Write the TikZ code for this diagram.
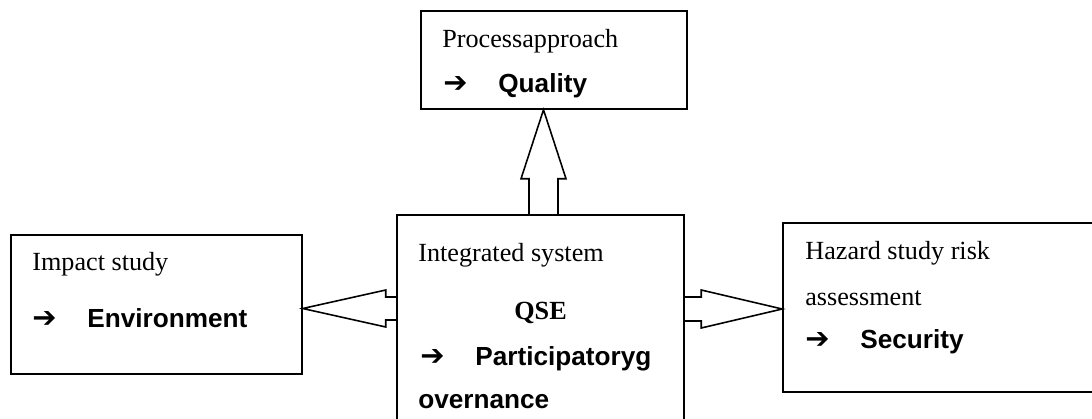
\documentclass[tikz,border=0pt]{standalone}
\usepackage{fontspec}
\setmainfont{Liberation Serif}
\newfontfamily\arialfont{Liberation Sans}
\newfontfamily\symfont{DejaVu Sans}
\usetikzlibrary{calc}
% arrow bullet followed by a bold sans word
\newcommand{\goal}[1]{\makebox[1.1cm][l]{\symfont\bfseries\fontsize{16.5}{18}\selectfont ➔}{\arialfont\bfseries #1}}
% hollow block arrow: name, base, tip, half shaft, half head, head length
\newcommand{\blockarrow}[6]{%
\coordinate (#1h) at ($(#3)!#6!(#2)$);
\draw[box] ($(#2)!#4!90:(#3)$) -- ($(#1h)!#4!90:(#3)$) -- ($(#1h)!#5!90:(#3)$) -- (#3)
 -- ($(#1h)!#5!-90:(#3)$) -- ($(#1h)!#4!-90:(#3)$) -- ($(#2)!#4!-90:(#3)$);}
\tikzset{
box/.style={draw, line width=0.9pt, line join=miter},
txt/.style={anchor=base west, inner sep=0pt, font=\fontsize{14.9}{18}\selectfont}
}
\begin{document}
\begin{tikzpicture}[x=0.02cm, y=-0.02cm]
\useasboundingbox (0,0) rectangle (1092,419);
\clip (0,0) rectangle (1092,419);
% the four boxes
\node[box, minimum width=5.32cm, minimum height=1.96cm] (proc) at (554,60) {};
\node[box, minimum width=5.82cm, minimum height=2.78cm] (env) at (156.5,304.5) {};
\node[box, minimum width=5.74cm, minimum height=4.7cm] (sys) at (540.5,332.5) {};
\node[box, minimum width=6.74cm, minimum height=3.38cm] (haz) at (951.5,307.5) {};
% texts in the boxes
\node[txt] (procA) at (442,47) {Processapproach};
\node[txt] (procB) at (443,92) {\goal{Quality}};
\node[txt] (envA) at (32,270) {Impact study};
\node[txt] (envB) at (32,327) {\goal{Environment}};
\node[txt] (sysA) at (418,261) {Integrated system};
\node[txt] (sysB) at (514,319) {\bfseries QSE};
\node[txt] (sysC) at (420,365) {\goal{Participatoryg}};
\node[txt] (sysD) at (418,408) {\arialfont\bfseries overnance};
\node[txt] (hazA) at (805,259) {Hazard study risk};
\node[txt] (hazB) at (805,305) {assessment};
\node[txt] (hazC) at (805,348) {\goal{Security}};
% block arrows out of the integrated system
\coordinate (upA) at ($(sys.north)+(3,0)$);
\coordinate (upB) at (proc.south -| upA);
\blockarrow{up}{upA}{upB}{0.29cm}{0.45cm}{1.38cm}
\coordinate (lfB) at ($(env.east)+(0,4)$);
\coordinate (lfA) at (sys.west |- lfB);
\blockarrow{lf}{lfA}{lfB}{0.23cm}{0.37cm}{1.66cm}
\coordinate (rtB) at ($(haz.west)+(0,1.5)$);
\coordinate (rtA) at (sys.east |- rtB);
\blockarrow{rt}{rtA}{rtB}{0.24cm}{0.38cm}{1.62cm}
\end{tikzpicture}
\end{document}
